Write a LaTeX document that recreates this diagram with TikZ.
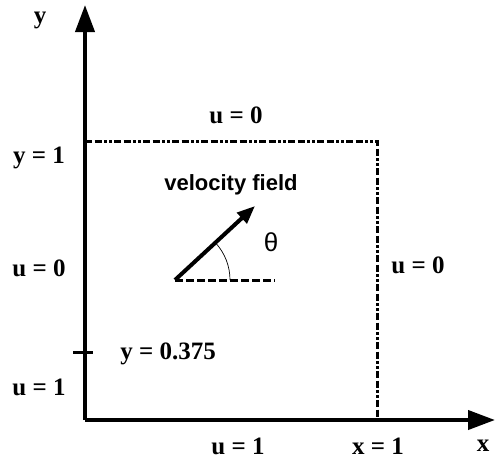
\documentclass[tikz,border=0pt]{standalone}
\usepackage{fontspec}
\setmainfont{Liberation Serif}
\newfontfamily\labelsans{Liberation Sans}
\usetikzlibrary{calc,arrows.meta}
\tikzset{
  axis/.style={-{Triangle[length=27pt,width=19pt]},line width=4pt},
  bnd/.style={line width=3pt,dash pattern=on 7pt off 2.5pt on 7pt off 2.5pt on 2.5pt off 2.5pt on 2.5pt off 2.5pt},
  lbl/.style={font=\fontsize{25}{28}\selectfont\bfseries,inner sep=0pt},
}
\begin{document}
\begin{tikzpicture}[x=1pt,y=-1pt]
\useasboundingbox (0,0) rectangle (495,459);
\coordinate (O)   at (85,420);
\coordinate (ytop) at (85,5);
\coordinate (xend) at (495,420);
\coordinate (c1)  at (85,141);
\coordinate (c2)  at (377,141);
\coordinate (c3)  at (377,420);
\coordinate (tkl) at (73,352);
\coordinate (tkr) at (93,352);
\coordinate (v0)  at (175,280);
\coordinate (v1)  at (255,206);
\coordinate (h1)  at (275,280);
% axes
\draw[axis] (O) -- (ytop);
\draw[axis] (O) -- (xend);
% boundaries of the box
\draw[bnd] (c1) -- (c2) -- (c3);
\draw[line width=3pt] (tkl) -- (tkr);
% velocity and angle
\draw[line width=3pt,dash pattern=on 8pt off 3pt] (v0) -- (h1);
\draw[line width=0.7pt] ($(v0)+(55,0)$) arc[start angle=0,end angle=-42.5,radius=55];
\draw[-{Triangle[length=18pt,width=14pt]},line width=4pt] (v0) -- (v1);
% labels
\node[lbl] (ly)   at (40,20)   {y};
\node[lbl] (ly1)  at (39,158)  {y = 1};
\node[lbl] (utop) at (236,115) {u = 0};
\node[lbl] (ulef) at (39,268)  {u = 0};
\node[lbl] (urig) at (418,265) {u = 0};
\node[lbl] (ly3)  at (168,354) {y = 0.375};
\node[lbl] (ul1)  at (39,387)  {u = 1};
\node[lbl] (ub1)  at (238,446) {u = 1};
\node[lbl] (lx1)  at (378,446) {x = 1};
\node[lbl] (lx)   at (483,446) {x};
\node[inner sep=0pt,font=\labelsans\fontsize{22}{25}\selectfont\bfseries] (vf) at (231,185) {velocity field};
\node[inner sep=0pt,font=\labelsans\fontsize{26}{29}\selectfont] (th) at (271,242) {θ};
\end{tikzpicture}
\end{document}
